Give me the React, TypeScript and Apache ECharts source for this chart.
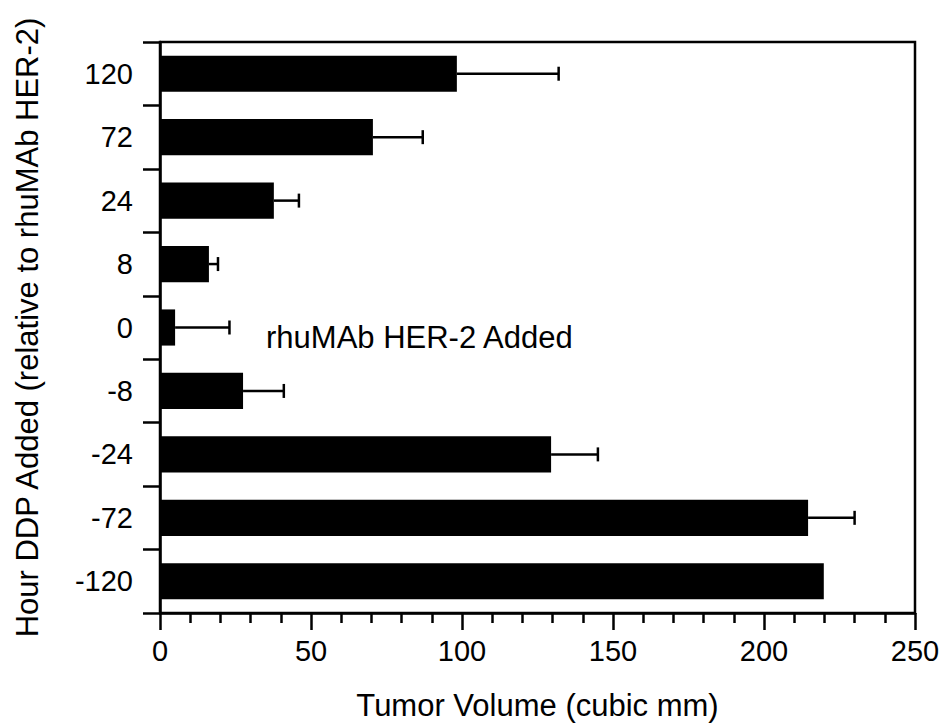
import React, { useEffect, useRef } from "react";
import * as echarts from "echarts";

const categories = ["-120", "-72", "-24", "-8", "0", "8", "24", "72", "120"];
const tumorVolume = [219.8, 214.6, 129.5, 27.5, 5, 16.2, 37.7, 70.5, 98.3];
const errorEnd = [219.8, 230, 145, 41, 23, 19.2, 46, 87, 132];
const xTicks = { min: 0, max: 250, interval: 50 };
const annotation = "rhuMAb HER-2 Added";
const xTitle = "Tumor Volume (cubic mm)";
const yTitle = "Hour DDP Added (relative to rhuMAb HER-2)";

const FONT = "'Liberation Sans', Arial, Helvetica, sans-serif";

export default function App() {
  const ref = useRef<HTMLDivElement>(null);
  useEffect(() => {
    if (!ref.current) return;
    const chart = echarts.init(ref.current, null, { renderer: "svg" });
    const errData = categories.map((_, i) => [tumorVolume[i], errorEnd[i], i]);
    chart.setOption({
      animation: false,
      backgroundColor: "#ffffff",
      grid: {
        left: 160,
        right: 28,
        top: 42,
        bottom: 109,
        show: true,
        borderColor: "#000",
        borderWidth: 2.5,
        backgroundColor: "transparent",
      },
      xAxis: {
        type: "value",
        min: xTicks.min,
        max: xTicks.max,
        interval: xTicks.interval,
        name: xTitle,
        nameLocation: "middle",
        nameGap: 77,
        nameTextStyle: { fontFamily: FONT, fontSize: 31, color: "#000" },
        axisLine: { show: true, lineStyle: { color: "#000", width: 2.5 } },
        axisTick: { show: true, length: 17, lineStyle: { color: "#000", width: 2.5 } },
        minorTick: { show: true, splitNumber: 5, length: 10, lineStyle: { color: "#000", width: 2.5 } },
        splitLine: { show: false },
        axisLabel: { fontFamily: FONT, fontSize: 29, color: "#000", margin: 23 },
      },
      yAxis: {
        type: "category",
        data: categories,
        name: yTitle,
        nameLocation: "middle",
        nameGap: 117,
        nameTextStyle: { fontFamily: FONT, fontSize: 31, color: "#000" },
        axisLine: { show: true, lineStyle: { color: "#000", width: 2.5 } },
        axisTick: { show: true, length: 17, lineStyle: { color: "#000", width: 2.5 } },
        axisLabel: { fontFamily: FONT, fontSize: 29, color: "#000", margin: 27 },
        splitLine: { show: false },
      },
      series: [
        {
          type: "bar",
          data: tumorVolume,
          barWidth: "57%",
          itemStyle: { color: "#000" },
          z: 2,
        },
        {
          type: "custom",
          data: errData,
          encode: { x: [0, 1], y: 2 },
          z: 3,
          renderItem: (params: any, api: any) => {
            const idx = api.value(2);
            const s = api.coord([api.value(0), idx]);
            const e = api.coord([api.value(1), idx]);
            if (e[0] - s[0] < 1) return { type: "group", children: [] };
            const half = 7;
            const style = { stroke: "#000", lineWidth: 2.5 };
            return {
              type: "group",
              children: [
                { type: "line", shape: { x1: s[0], y1: s[1], x2: e[0], y2: e[1] }, style },
                { type: "line", shape: { x1: e[0], y1: e[1] - half, x2: e[0], y2: e[1] + half }, style },
              ],
            };
          },
        },
      ],
      graphic: [
        {
          type: "text",
          left: 266,
          top: 322,
          style: { text: annotation, font: `31px ${FONT}`, fill: "#000" },
        },
      ],
    });
    return () => chart.dispose();
  }, []);
  return (
    <div
      ref={ref}
      style={{ position: "fixed", left: 0, top: 0, width: 943, height: 726 }}
    />
  );
}
